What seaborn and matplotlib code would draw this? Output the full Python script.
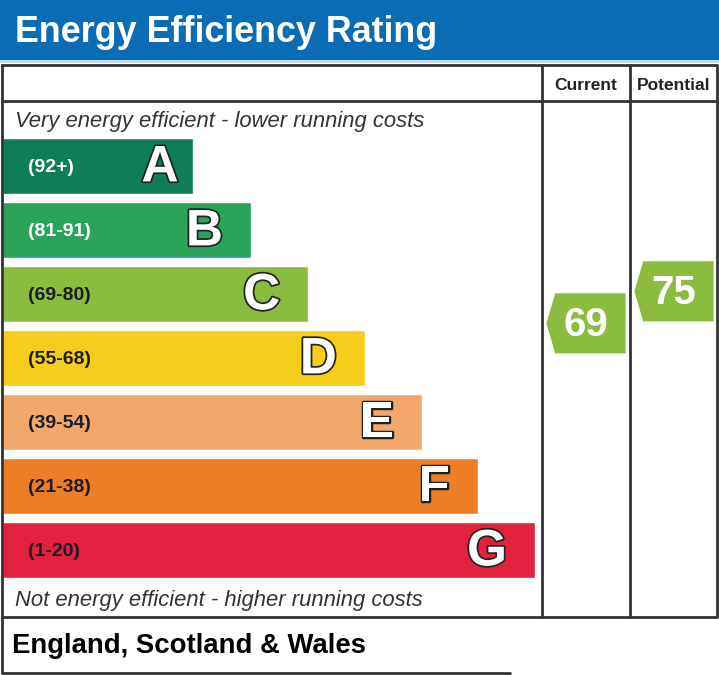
import matplotlib
matplotlib.use("Agg")
import matplotlib.pyplot as plt
import matplotlib.patheffects as pe
import pandas as pd
import seaborn as sns

# EPC bands, top (most efficient) to bottom
bands = ["A", "B", "C", "D", "E", "F", "G"]
band_ranges = ["(92+)", "(81-91)", "(69-80)", "(55-68)", "(39-54)", "(21-38)", "(1-20)"]
band_low = [92, 81, 69, 55, 39, 21, 1]
band_high = [100, 91, 80, 68, 54, 38, 20]
bar_pct = [35.4, 46.1, 56.7, 67.2, 77.8, 88.1, 98.7]   # bar length, % of rating area
band_colors = ["#0f7e56", "#2ba35a", "#8cbc3f", "#f6cd1a", "#f2a86b", "#ec7e27", "#e1213d"]
label_colors = ["white", "white", "#1c1c2a", "#1c1c2a", "#1c1c2a", "#1c1c2a", "#1c1c2a"]

rating_cols = ["Current", "Potential"]
rating_vals = [69, 75]

W, H = 719, 675
LINE = "#333333"

sns.set_theme(style="white")
plt.rcParams["font.family"] = ["Liberation Sans", "DejaVu Sans"]

fig = plt.figure(figsize=(W / 100, H / 100), dpi=100)

# background layer in pixel units: header and text
bg = fig.add_axes([0, 0, 1, 1])
bg.set_xlim(0, W)
bg.set_ylim(H, 0)
bg.axis("off")

bg.axhspan(0, 60, color="#0a6cb4", lw=0)
bg.axhspan(60, 63, color="#c9dcee", lw=0)
bg.text(15, 41.5, "Energy Efficiency Rating", color="white", fontsize=25.8,
        fontweight="bold", va="baseline", ha="left")

bg.text(586, 90, "Current", fontsize=12.5, fontweight="bold", ha="center",
        va="baseline", color="#222222")
bg.text(674, 90, "Potential", fontsize=12.5, fontweight="bold", ha="center",
        va="baseline", color="#222222")

bg.text(15, 127, "Very energy efficient - lower running costs", fontsize=15.8,
        style="italic", color="#333333", va="baseline")
bg.text(15, 606, "Not energy efficient - higher running costs", fontsize=15.8,
        style="italic", color="#333333", va="baseline")

bg.text(12, 653, "England, Scotland & Wales", fontsize=19.8, fontweight="bold",
        color="black", va="baseline")

# band bars
df = pd.DataFrame({"band": bands, "pct": bar_pct})
ax = fig.add_axes([2 / W, (H - 582) / H, 540 / W, 448 / H])
sns.barplot(data=df, x="pct", y="band", hue="band", palette=band_colors,
            legend=False, width=0.875, orient="h", ax=ax, saturation=1)
ax.set_xlim(0, 100)
ax.set_ylim(6.5, -0.5)
ax.axis("off")
ax.patch.set_alpha(0)

for i, (b, r, p) in enumerate(zip(bands, band_ranges, bar_pct)):
    ax.text(4.8, i + 0.02, r, fontsize=14, fontweight="bold", color=label_colors[i],
            va="center", ha="left")
    nudge = 2.5 if b == "A" else 0
    ax.text(p - 5.2 + nudge, i + 0.03, b, fontsize=37, fontweight="bold",
            color="white", va="center", ha="right",
            path_effects=[pe.withStroke(linewidth=2.5, foreground="#222222")])


def band_pos(v):
    # vertical position of a rating on the band scale
    for i, (lo, hi) in enumerate(zip(band_low, band_high)):
        if lo <= v <= hi:
            mid = (lo + hi) / 2
            return i + (mid - v) / (hi - lo + 1)
    return len(bands) - 1


# rating arrows in the two right-hand columns
rax = fig.add_axes([542 / W, (H - 582) / H, 176 / W, 448 / H], sharey=ax)
rax.set_xlim(0, 2)
rax.axis("off")
rax.patch.set_alpha(0)

for j, (col, v) in enumerate(zip(rating_cols, rating_vals)):
    y = band_pos(v)
    i = next(k for k, (lo, hi) in enumerate(zip(band_low, band_high)) if lo <= v <= hi)
    h = 0.47
    xs = [j + 0.05, j + 0.15, j + 0.95, j + 0.95, j + 0.15]
    ys = [y, y - h, y - h, y + h, y + h]
    rax.fill(xs, ys, color=band_colors[i], lw=0)
    rax.text(j + 0.5, y + 0.02, str(v), fontsize=29, fontweight="bold",
             color="white", ha="center", va="center")

# table frame on top of everything
top = fig.add_axes([0, 0, 1, 1])
top.set_xlim(0, W)
top.set_ylim(H, 0)
top.axis("off")
top.patch.set_alpha(0)
top.plot([2, 717, 717, 2, 2], [65, 65, 617, 617, 65], color=LINE, lw=2)
top.plot([2, 717], [101, 101], color=LINE, lw=2)
top.plot([542, 542], [65, 617], color=LINE, lw=2)
top.plot([630, 630], [65, 617], color=LINE, lw=2)
top.plot([2, 2, 510], [617, 673, 673], color=LINE, lw=2)

fig.savefig("out.png", dpi=100)
